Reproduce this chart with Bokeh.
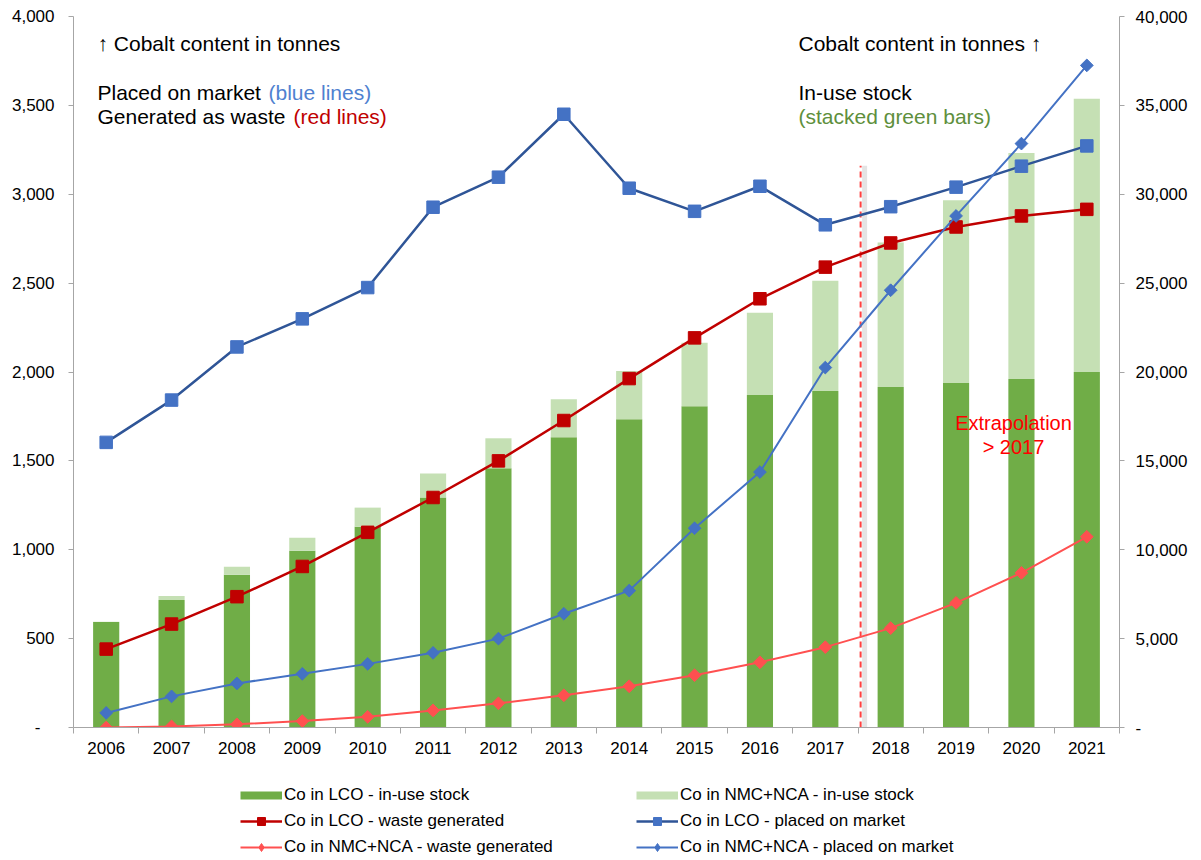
import math
from bokeh.plotting import figure
from bokeh.layouts import column
from bokeh.models import (Range1d, LinearAxis, FixedTicker, NumeralTickFormatter,
                          Legend, LegendItem, ColumnDataSource)
from bokeh.core.properties import value
from bokeh.embed import file_html
from bokeh.resources import INLINE

# ---------------- data ----------------
years = [2006, 2007, 2008, 2009, 2010, 2011, 2012, 2013,
         2014, 2015, 2016, 2017, 2018, 2019, 2020, 2021]

# in-use stock (right axis, tonnes Co)
lco_stock = [5930, 7170, 8590, 9940, 11300, 12940, 14580, 16330,
             17340, 18080, 18700, 18930, 19150, 19380, 19600, 20000]
nmc_stock = [20, 230, 450, 740, 1070, 1350, 1690, 2140,
             2720, 3560, 4630, 6210, 8140, 10280, 12720, 15370]

# flows (left axis, tonnes Co)
lco_market = [1604, 1842, 2141, 2299, 2475, 2927, 3096, 3450,
              3034, 2904, 3045, 2828, 2930, 3040, 3158, 3272]
lco_waste = [441, 582, 736, 906, 1098, 1294, 1500, 1727,
             1963, 2192, 2412, 2590, 2726, 2816, 2878, 2915]
nmc_market = [82, 175, 248, 302, 358, 420, 500, 640,
              770, 1121, 1437, 2025, 2460, 2878, 3285, 3725]
nmc_waste = [0, 6, 18, 36, 60, 96, 136, 181,
             232, 294, 367, 452, 559, 701, 870, 1073]

left_ticks = [0, 500, 1000, 1500, 2000, 2500, 3000, 3500, 4000]
right_ticks = [0, 5000, 10000, 15000, 20000, 25000, 30000, 35000, 40000]

legend_labels = [
    "Co in LCO - in-use stock",
    "Co in NMC+NCA - in-use stock",
    "Co in LCO - waste generated",
    "Co in LCO - placed on market",
    "Co in NMC+NCA - waste generated",
    "Co in NMC+NCA - placed on market",
]

extrapolation_x = 2017.54
extrapolation_top = 3160

FONT = "Liberation Sans"
DARK_GREEN = "#70AD47"
LIGHT_GREEN = "#C5E0B4"
DARK_RED = "#C00000"
LIGHT_RED = "#FF5050"
BLUE = "#4472C4"
DARK_BLUE = "#2F5597"
AXIS_GRAY = "#A6A6A6"
TXT = "#000000"

FRAME_L, FRAME_T, FRAME_W, FRAME_H = 73, 16, 1046, 711
BOTTOM = 50


def px(x):
    return 2005.5 + (x - FRAME_L) / FRAME_W * 16


def py(y):
    return (FRAME_T + FRAME_H - y) / FRAME_H * 4000


p = figure(frame_width=FRAME_W, frame_height=FRAME_H,
           x_range=Range1d(2005.5, 2021.5), y_range=Range1d(0, 4000),
           output_backend="svg", toolbar_location=None,
           min_border_left=FRAME_L, min_border_right=76, min_border_top=FRAME_T,
           min_border_bottom=BOTTOM, outline_line_color=None,
           background_fill_color="white", border_fill_color="white")
p.extra_y_ranges = {"right": Range1d(0, 40000)}
p.xgrid.visible = False
p.ygrid.visible = False

# ---------- axes ----------
xa = p.xaxis[0]
xa.ticker = FixedTicker(ticks=years, minor_ticks=[y - 0.5 for y in years] + [2021.5])
xa.major_tick_line_color = None
xa.major_tick_out = 6
xa.major_tick_in = 0
xa.minor_tick_out = 6
xa.minor_tick_in = 0
xa.minor_tick_line_color = AXIS_GRAY
xa.axis_line_color = AXIS_GRAY
xa.major_label_text_font = FONT
xa.major_label_text_font_size = "17px"
xa.major_label_text_color = TXT
xa.major_label_standoff = 8

ya = p.yaxis[0]
ya.ticker = FixedTicker(ticks=left_ticks)
ya.formatter = NumeralTickFormatter(format="0,0")
ya.major_label_overrides = {0: "-\u00a0\u00a0\u00a0"}
ya.major_tick_out = 5
ya.major_tick_in = 0
ya.minor_tick_line_color = None
ya.major_tick_line_color = AXIS_GRAY
ya.axis_line_color = AXIS_GRAY
ya.major_label_text_font = FONT
ya.major_label_text_font_size = "17px"
ya.major_label_text_color = TXT
ya.major_label_standoff = 14

ra = LinearAxis(y_range_name="right", ticker=FixedTicker(ticks=right_ticks),
                formatter=NumeralTickFormatter(format="0,0"))
ra.major_label_overrides = {0: "-"}
ra.major_tick_out = 5
ra.major_tick_in = 0
ra.minor_tick_line_color = None
ra.major_tick_line_color = AXIS_GRAY
ra.axis_line_color = AXIS_GRAY
ra.major_label_text_font = FONT
ra.major_label_text_font_size = "17px"
ra.major_label_text_color = TXT
ra.major_label_standoff = 11
p.add_layout(ra, "right")

# ---------- bars ----------
src = ColumnDataSource(dict(year=years, lco=lco_stock, nmc=nmc_stock))
p.vbar_stack(["lco", "nmc"], x="year", width=0.4, source=src,
             color=[DARK_GREEN, LIGHT_GREEN], line_color=None,
             y_range_name="right")

# ---------- extrapolation marker ----------
p.segment(x0=[extrapolation_x + 4 / FRAME_W * 16], y0=[0],
          x1=[extrapolation_x + 4 / FRAME_W * 16], y1=[extrapolation_top],
          line_color="#E4E4E4", line_width=5)
p.segment(x0=[extrapolation_x], y0=[0], x1=[extrapolation_x], y1=[extrapolation_top],
          line_color="#FF4040", line_width=2, line_dash="6 4")

# ---------- lines ----------
LINE_STYLES = [
    # (values, line colour, line width, marker fill, square size, angle, legend marker, legend size)
    (lco_market, DARK_BLUE, 2.5, BLUE, 12.5, 0.0, "square", 9),
    (lco_waste, DARK_RED, 2.5, DARK_RED, 12.5, 0.0, "square", 9),
    (nmc_waste, LIGHT_RED, 2.0, LIGHT_RED, 9, math.pi / 4, "diamond", 12),
    (nmc_market, BLUE, 2.0, BLUE, 9, math.pi / 4, "diamond", 12),
]
for vals, lc, lw, mc, ms, ang, _, _ in LINE_STYLES:
    p.line(years, vals, line_color=lc, line_width=lw)
    p.scatter(years, vals, marker="square", size=ms, angle=ang,
              fill_color=mc, line_color=mc)

# ---------- texts ----------
def txt(s, x, y, color=TXT, size="21px", align="left"):
    p.text(x=[px(x)], y=[py(y)], text=[s], text_color=color,
           text_font=value(FONT), text_font_size=size,
           text_align=align, text_baseline="alphabetic")

txt("\u2191 Cobalt content in tonnes", 97, 43)
txt("Placed on market", 97, 92)
txt("(blue lines)", 268, 92, color="#4F81D0")
txt("Generated as waste", 97, 116)
txt("(red lines)", 293, 116, color=DARK_RED)
txt("Cobalt content in tonnes \u2191", 798, 43)
txt("In-use stock", 798, 92)
txt("(stacked green bars)", 798, 116, color="#5E8F3C")
txt("Extrapolation", 1013, 422, color="#FF0000", size="20px", align="center")
txt("> 2017", 1013, 446, color="#FF0000", size="20px", align="center")

# ---------- legend figure ----------
LEG_FRAME_H = 80
p2 = figure(frame_width=FRAME_W, frame_height=LEG_FRAME_H,
            x_range=Range1d(0, 1), y_range=Range1d(0, 1),
            x_axis_type=None, y_axis_type=None,
            output_backend="svg", toolbar_location=None,
            min_border_left=FRAME_L, min_border_right=76, min_border_top=0,
            min_border_bottom=0, outline_line_color=None,
            background_fill_color="white", border_fill_color="white")
p2.xgrid.visible = False
p2.ygrid.visible = False

nan = float("nan")
d_lco = p2.line([nan], [nan], line_color=DARK_GREEN, line_width=8)
d_nmc = p2.line([nan], [nan], line_color=LIGHT_GREEN, line_width=8)
dummy = {}
for key, (vals, lc, lw, mc, ms, ang, lmk, lsz) in zip(["lm", "lw", "nw", "nm"], LINE_STYLES):
    lr = p2.line([nan], [nan], line_color=lc, line_width=lw)
    sr = p2.scatter([nan], [nan], marker=lmk, size=lsz,
                    fill_color=mc, line_color=mc)
    dummy[key] = [lr, sr]

items = [
    LegendItem(label=legend_labels[0], renderers=[d_lco]),
    LegendItem(label=legend_labels[1], renderers=[d_nmc]),
    LegendItem(label=legend_labels[2], renderers=dummy["lw"]),
    LegendItem(label=legend_labels[3], renderers=dummy["lm"]),
    LegendItem(label=legend_labels[4], renderers=dummy["nw"]),
    LegendItem(label=legend_labels[5], renderers=dummy["nm"]),
]
legend = Legend(items=items, orientation="horizontal", ncols=2,
                location=(240 - FRAME_L, 0),
                label_text_font=FONT,
                label_text_font_size="17px", label_text_color=TXT,
                glyph_width=42, glyph_height=20, label_height=20,
                label_width=346, label_standoff=2, spacing=6, padding=0,
                margin=0, border_line_color=None, background_fill_alpha=0)
p2.add_layout(legend, "center")

layout = column(p, p2, spacing=0)
open("out.html", "w").write(file_html(layout, INLINE))
